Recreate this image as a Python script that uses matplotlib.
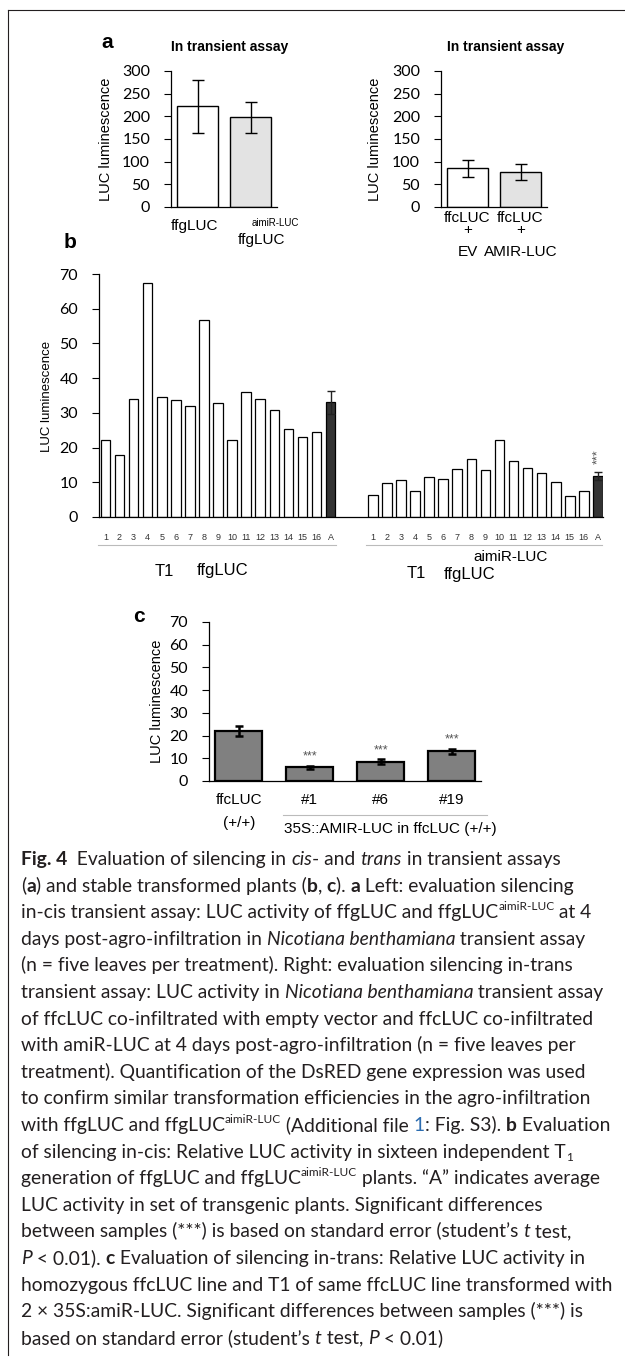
import numpy as np
import matplotlib
matplotlib.use("Agg")
import matplotlib.pyplot as plt
from matplotlib.lines import Line2D

# ---- data ----
# panel a: transient assay
a_left_vals = [222, 198]
a_left_err = [58, 34]
a_right_vals = [85, 77]
a_right_err = [19, 17]
a_right_top = ["ffcLUC", "ffcLUC"]
a_right_bottom = ["EV", "AMIR-LUC"]

# panel b: sixteen T1 lines + average "A"
b_ffg = [22.3, 17.8, 34.1, 67.5, 34.5, 33.8, 31.9, 56.7,
         32.9, 22.3, 36.0, 34.1, 30.8, 25.3, 23.1, 24.6]
b_ffg_avg, b_ffg_err = 33.0, 3.4
b_amir = [6.4, 9.7, 10.6, 7.6, 11.6, 10.9, 13.7, 16.8,
          13.4, 22.3, 16.0, 14.2, 12.7, 10.1, 6.1, 7.6]
b_amir_avg, b_amir_err = 11.9, 1.2
b_ticks = [str(i) for i in range(1, 17)] + ["A"]

# panel c: homozygous ffcLUC vs AMIR-LUC lines
c_labels = ["ffcLUC", "#1", "#6", "#19"]
c_vals = [22.0, 6.0, 8.5, 13.1]
c_err = [2.3, 0.5, 1.0, 1.0]
c_sig = ["", "***", "***", "***"]

NUM = ["Lato", "DejaVu Sans"]
ARIAL = ["Liberation Sans", "DejaVu Sans"]
CAP = ["Lato", "DejaVu Sans"]
INK = "#231f20"

W, H = 625, 1358
fig = plt.figure(figsize=(W / 100, H / 100), dpi=100)


def add_axes_px(left, top, right, bottom):
    return fig.add_axes([left / W, 1 - bottom / H, (right - left) / W, (bottom - top) / H])


def fig_text(x, y, s, **kw):
    return fig.text(x / W, 1 - y / H, s, **kw)


def under(ax, x, s, dy, dx=0, size=11, **kw):
    # label placed dy pixels below the x axis
    ax.annotate(s, xy=(x, 0), xycoords=("data", "axes fraction"),
                xytext=(dx * 0.72, -dy * 0.72), textcoords="offset points",
                ha="center", va="center", fontsize=size, family=ARIAL,
                annotation_clip=False, **kw)


def style_axes(ax, top, step):
    ax.set_ylim(0, top)
    ticks = np.arange(0, top + 1, step)
    ax.set_yticks(ticks, [str(int(t)) for t in ticks], family=NUM, fontsize=11.5)
    for s in ["top", "right"]:
        ax.spines[s].set_visible(False)
    for s in ["left", "bottom"]:
        ax.spines[s].set_linewidth(0.9)
    ax.tick_params(axis="y", length=5, width=0.8, pad=10)
    ax.tick_params(axis="x", length=0)
    ax.patch.set_alpha(0)


# ---- frame ----
fig.add_artist(Line2D([8 / W, 1], [1 - 10 / H] * 2, color=INK, lw=0.8))
fig.add_artist(Line2D([8 / W] * 2, [1 - 10 / H, 1 - 1355 / H], color=INK, lw=0.8))

# ---- panel a ----
err_kw = dict(elinewidth=1, capthick=1, ecolor="black")
ax = add_axes_px(171, 71, 277, 207)
ax.bar(np.arange(2), a_left_vals, width=0.77, color=["white", "#e3e3e3"],
       edgecolor="black", linewidth=1.0, yerr=a_left_err, capsize=4.5, error_kw=err_kw)
ax.set_xlim(-0.5, 1.5)
style_axes(ax, 300, 50)
ax.set_xticks([])
under(ax, 0, "ffgLUC", 19, -3)
under(ax, 1, "ffgLUC", 33, 11)
under(ax, 1, "aimiR-LUC", 16, 25, size=7)

ax = add_axes_px(441, 71, 547, 207)
ax.bar(np.arange(2), a_right_vals, width=0.77, color=["white", "#e3e3e3"],
       edgecolor="black", linewidth=1.0, yerr=a_right_err, capsize=4.5, error_kw=err_kw)
ax.set_xlim(-0.5, 1.5)
style_axes(ax, 300, 50)
ax.set_xticks([])
for i in range(2):
    under(ax, i, a_right_top[i], 11)
    under(ax, i, "+", 23)
    under(ax, i, a_right_bottom[i], 45)

fig_text(107, 43, "a", fontsize=15, weight="bold", family=ARIAL, ha="center", va="center")
fig_text(230, 47, "In transient assay", fontsize=10, weight="bold", family=ARIAL, ha="center", va="center")
fig_text(506, 47, "In transient assay", fontsize=10, weight="bold", family=ARIAL, ha="center", va="center")
fig_text(106, 139, "LUC luminescence", fontsize=10.5, family=ARIAL, rotation=90, ha="center", va="center")
fig_text(375, 139, "LUC luminescence", fontsize=10.5, family=ARIAL, rotation=90, ha="center", va="center")

# ---- panel b ----
ax = add_axes_px(99, 274, 603, 517)
pos_l = np.arange(17)
pos_r = np.arange(19, 36)
face = ["white"] * 16 + ["#333333"]
ax.bar(pos_l, b_ffg + [b_ffg_avg], width=0.68, color=face, edgecolor="black", linewidth=0.9)
ax.bar(pos_r, b_amir + [b_amir_avg], width=0.68, color=face, edgecolor="black", linewidth=0.9)
ax.errorbar([pos_l[-1], pos_r[-1]], [b_ffg_avg, b_amir_avg], yerr=[b_ffg_err, b_amir_err],
            fmt="none", ecolor="#222222", elinewidth=1, capsize=3, capthick=1)
ax.set_xlim(-0.46, 35.36)
style_axes(ax, 70, 10)
ax.set_xticks(list(pos_l) + list(pos_r), b_ticks * 2, fontsize=6.5, family=ARIAL, color="#333333")
ax.tick_params(axis="x", length=0, pad=11.5)
trans = ax.get_xaxis_transform()
for x0, x1 in [(-0.5, 16.4), (18.5, 35.3)]:
    ax.plot([x0, x1], [-28 / 243] * 2, transform=trans, clip_on=False, color="#bbbbbb", lw=0.8)
ax.text(pos_r[-1], b_amir_avg + b_amir_err + 2.3, "***", rotation=90, ha="center", va="bottom",
        fontsize=9, color="#555555", family=ARIAL)
under(ax, 4.16, "T1", 54, size=12)
under(ax, 8.35, "ffgLUC", 54, size=12)
under(ax, 28.8, "aimiR-LUC", 40, size=11)
under(ax, 22.1, "T1", 57, size=12)
under(ax, 25.9, "ffgLUC", 57, size=12)

fig_text(70, 243, "b", fontsize=15, weight="bold", family=ARIAL, ha="center", va="center")
fig_text(47, 396, "LUC luminescence", fontsize=9.5, family=ARIAL, rotation=90, ha="center", va="center")

# ---- panel c ----
ax = add_axes_px(209, 622, 481, 781)
ax.bar(np.arange(4), c_vals, width=0.66, color="#808080", edgecolor="black", linewidth=1.6,
       yerr=c_err, capsize=3, error_kw=dict(elinewidth=1.8, capthick=1.8, ecolor="black"))
ax.set_xlim(-0.42, 3.41)
style_axes(ax, 70, 10)
ax.set_xticks(np.arange(4), c_labels, fontsize=11, family=ARIAL)
ax.tick_params(axis="x", length=0, pad=9)
for i, s in enumerate(c_sig):
    if s:
        ax.text(i, c_vals[i] + c_err[i] + 1.5, s, ha="center", va="bottom",
                fontsize=9, color="#555555", family=ARIAL)
under(ax, 0, "(+/+)", 42)
trans = ax.get_xaxis_transform()
ax.plot([0.62, 3.49], [-34 / 159] * 2, transform=trans, clip_on=False, color="#bbbbbb", lw=0.8)
under(ax, 2.13, "35S::AMIR-LUC in ffcLUC (+/+)", 48)

fig_text(139, 617, "c", fontsize=15, weight="bold", family=ARIAL, ha="center", va="center")
fig_text(157, 701, "LUC luminescence", fontsize=10.5, family=ARIAL, rotation=90, ha="center", va="center")

# ---- caption ----
caption = [
    [("Fig. 4", "b"), ("  Evaluation of silencing in ", "n"), ("cis", "i"), ("- and ", "n"),
     ("trans", "i"), (" in transient assays", "n")],
    [("(", "n"), ("a", "b"), (") and stable transformed plants (", "n"), ("b", "b"), (", ", "n"),
     ("c", "b"), ("). ", "n"), ("a", "b"), (" Left: evaluation silencing", "n")],
    [("in-cis transient assay: LUC activity of ffgLUC and ffgLUC", "n"), ("aimiR-LUC", "sup"),
     (" at 4", "n")],
    [("days post-agro-infiltration in ", "n"), ("Nicotiana benthamiana", "i"),
     (" transient assay", "n")],
    [("(n = five leaves per treatment). Right: evaluation silencing in-trans", "n")],
    [("transient assay: LUC activity in ", "n"), ("Nicotiana benthamiana", "i"),
     (" transient assay", "n")],
    [("of ffcLUC co-infiltrated with empty vector and ffcLUC co-infiltrated", "n")],
    [("with amiR-LUC at 4 days post-agro-infiltration (n = five leaves per", "n")],
    [("treatment). Quantification of the DsRED gene expression was used", "n")],
    [("to confirm similar transformation efficiencies in the agro-infiltration", "n")],
    [("with ffgLUC and ffgLUC", "n"), ("aimiR-LUC", "sup"), (" (Additional file ", "n"),
     ("1", "link"), (": Fig. S3). ", "n"), ("b", "b"), (" Evaluation", "n")],
    [("of silencing in-cis: Relative LUC activity in sixteen independent T", "n"), ("1", "sub")],
    [("generation of ffgLUC and ffgLUC", "n"), ("aimiR-LUC", "sup"),
     (" plants. \u201cA\u201d indicates average", "n")],
    [("LUC activity in set of transgenic plants. Significant differences", "n")],
    [("between samples (***) is based on standard error (student\u2019s ", "n"), ("t", "i"),
     (" test,", "n")],
    [("P", "i"), (" < 0.01). ", "n"), ("c", "b"),
     (" Evaluation of silencing in-trans: Relative LUC activity in", "n")],
    [("homozygous ffcLUC line and T1 of same ffcLUC line transformed with", "n")],
    [("2 \u00d7 35S:amiR-LUC. Significant differences between samples (***) is", "n")],
    [("based on standard error (student\u2019s ", "n"), ("t", "i"), (" test, ", "n"), ("P", "i"),
     (" < 0.01)", "n")],
]

renderer = fig.canvas.get_renderer()


def run_width(s, size, weight, style):
    kw = dict(fontsize=size, family=CAP, weight=weight, style=style)
    t1 = fig.text(0, 0, "|" + s + "|", **kw)
    t2 = fig.text(0, 0, "||", **kw)
    w = t1.get_window_extent(renderer).width - t2.get_window_extent(renderer).width
    t1.remove()
    t2.remove()
    return w


# fit caption size so the longest line spans the text block width
cap_size = 10 * 591 / run_width(caption[16][0][0], 10, "normal", "normal")
line_gap = 26.6
for k, runs in enumerate(caption):
    x = 21
    base = 865 + k * line_gap
    for s, st in runs:
        size, dy, weight, style, color = cap_size, 0, "normal", "normal", INK
        if st == "b":
            weight = "bold"
        elif st == "i":
            style = "italic"
        elif st == "sup":
            size = cap_size * 0.62
            dy = -cap_size * 0.42 / 0.72
        elif st == "sub":
            size = cap_size * 0.62
            dy = cap_size * 0.2 / 0.72
        elif st == "link":
            color = "#2b6cb0"
        fig_text(x, base + dy, s, fontsize=size, family=CAP, weight=weight, style=style,
                 color=color, ha="left", va="baseline")
        x += run_width(s, size, weight, style)

fig.savefig("out.png", dpi=100)
